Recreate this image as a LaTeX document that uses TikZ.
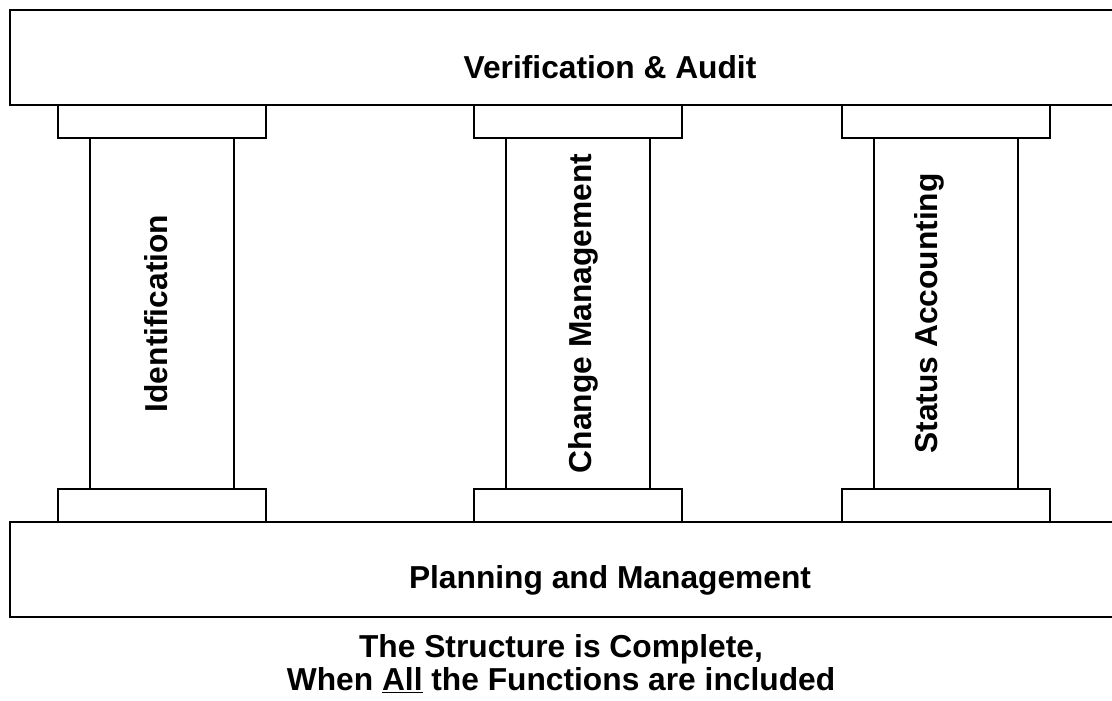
\documentclass[tikz,border=0pt]{standalone}
\usepackage{fontspec}
\setmainfont{Liberation Sans}
\tikzset{
	block/.style={draw=black, line width=2.2pt, fill=white, inner sep=0pt},
	shaft/.style={draw=black, line width=1.8pt, minimum width=108pt, minimum height=263.25pt, inner sep=0pt},
	capital/.style={block, minimum width=156pt, minimum height=24.75pt},
	slab/.style={block, minimum width=900pt, minimum height=71.25pt},
	caption/.style={font=\fontsize{23.8}{28}\selectfont\bfseries, inner sep=0pt, anchor=base}
}
\begin{document}
\begin{tikzpicture}[x=0.75pt, y=-0.75pt]
	\useasboundingbox (0,0) rectangle (1112,700);
	\clip (0,0) rectangle (1112,700);

	% pillars
	\foreach \x/\n in {162/ident, 578/change, 946/status} {
		\node[shaft]   (\n)      at (\x,313.5) {};
		\node[capital] (\n-top)  at (\x,121.5) {};
		\node[capital] (\n-foot) at (\x,505.5) {};
	}

	% slabs
	\node[slab] (audit) at (610,57.5)  {};
	\node[slab] (plan)  at (610,569.5) {};

	\node[caption]            (audittext)  at (610,78)  {Verification \& Audit};
	\node[caption]            (plantext)   at (610,588) {Planning and Management};
	\node[caption, rotate=90] (identtext)  at (167,313.5) {Identification};
	\node[caption, rotate=90] (changetext) at (591,313.5) {Change Management};
	\node[caption, rotate=90] (statustext) at (937,313.5) {Status Accounting};

	\node[caption] (note1) at (561,657) {The Structure is Complete,};
	\node[caption] (note2) at (561,690) {When \underline{All} the Functions are included};
\end{tikzpicture}
\end{document}
